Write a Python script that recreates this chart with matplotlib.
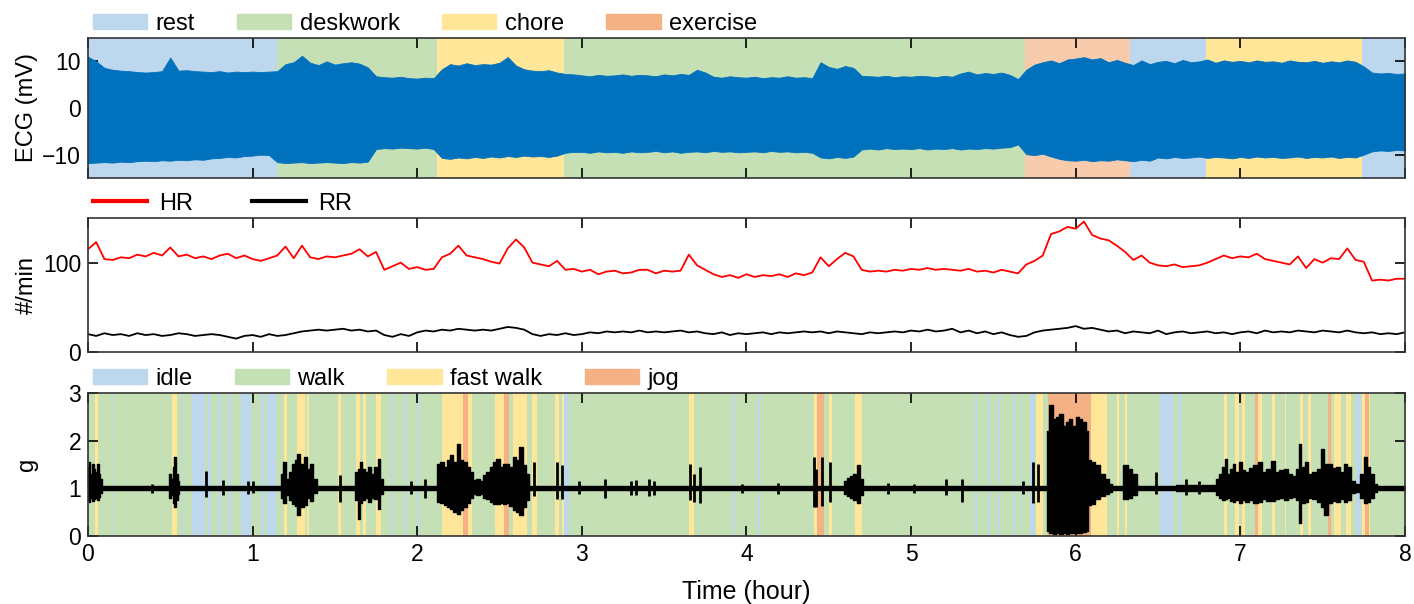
import numpy as np
import matplotlib
matplotlib.use("Agg")
import matplotlib.pyplot as plt
from matplotlib.patches import Patch
from matplotlib.lines import Line2D

plt.rcParams['font.family'] = ['Liberation Sans', 'DejaVu Sans']
plt.rcParams['font.size'] = 16

# activity colours (rest/idle, deskwork/walk, chore/fast walk, exercise/jog)
COLORS = ['#bdd7ee', '#c5e0b4', '#ffe699', '#f4b183']
TOP_NAMES = ['rest', 'deskwork', 'chore', 'exercise']
BOT_NAMES = ['idle', 'walk', 'fast walk', 'jog']

# top panel activity labels (hours)
top_start = [0.0, 1.15, 2.12, 2.89, 5.69, 6.33, 6.79, 7.74]
top_end = [1.15, 2.12, 2.89, 5.69, 6.33, 6.79, 7.74, 8.0]
top_kind = [0, 1, 2, 1, 3, 0, 2, 0]

# ECG envelope, every 0.05 h
ecg_hi = [
    11.0, 10.0, 8.6, 8.2, 8.0, 7.9, 7.7, 7.6, 7.7, 7.9, 10.8, 8.0, 8.1, 7.9, 7.8, 7.7, 7.9, 7.6, 7.8, 7.7,
    7.8, 7.7, 7.8, 7.9, 9.4, 9.8, 11.2, 9.7, 9.2, 10.0, 9.3, 9.6, 9.8, 9.5, 8.7, 6.8, 6.6, 6.5, 6.7, 6.4,
    6.3, 6.5, 6.4, 8.3, 9.4, 9.1, 9.6, 9.2, 9.4, 9.3, 9.7, 10.9, 9.1, 8.3, 8.0, 7.9, 8.1, 7.6, 7.3, 7.2,
    7.0, 6.8, 7.1, 6.9, 7.0, 7.2, 6.9, 7.1, 7.0, 6.8, 7.2, 7.0, 7.3, 7.1, 8.2, 7.6, 6.7, 6.5, 6.8, 6.6,
    6.5, 6.7, 6.4, 6.6, 6.5, 6.8, 6.5, 6.6, 6.4, 9.8, 8.8, 8.4, 9.0, 8.6, 6.9, 6.8, 6.7, 6.9, 6.6, 6.8,
    6.7, 6.9, 6.8, 6.6, 6.9, 6.7, 7.4, 7.8, 7.2, 7.5, 7.3, 7.6, 7.1, 6.2, 8.2, 9.3, 9.8, 10.2, 9.6, 10.4,
    10.6, 10.9, 10.4, 10.7, 9.8, 10.3, 9.7, 9.2, 10.2, 9.4, 9.9, 10.1, 9.6, 10.3, 9.8, 10.0, 10.4, 9.7, 10.2, 9.9,
    10.1, 9.8, 10.2, 9.9, 10.0, 9.7, 10.2, 9.9, 9.8, 10.1, 9.7, 10.0, 9.8, 10.2, 9.9, 8.9, 7.6, 7.4, 7.5, 7.3,
    7.4]
ecg_lo = [
    -11.8, -11.7, -11.6, -11.7, -11.5, -11.6, -11.4, -11.3, -11.4, -11.2, -11.3, -11.1, -11.2, -11.0, -11.1, -10.8, -10.7, -10.5, -10.6, -10.3,
    -10.2, -10.0, -10.1, -11.6, -11.8, -11.7, -11.6, -11.8, -11.7, -11.6, -11.7, -11.8, -11.6, -11.7, -11.5, -8.8, -8.6, -8.7, -8.5, -8.6,
    -8.7, -8.5, -8.8, -10.7, -10.9, -10.6, -10.8, -10.5, -10.7, -10.4, -10.6, -10.3, -10.5, -10.2, -10.4, -10.3, -10.5, -10.2, -9.6, -9.4,
    -9.4, -9.6, -9.3, -9.5, -9.4, -9.6, -9.3, -9.5, -9.4, -9.2, -9.5, -9.3, -9.6, -9.4, -9.3, -9.5, -9.2, -9.4, -9.3, -9.5,
    -9.4, -9.3, -9.5, -9.2, -9.4, -9.3, -9.5, -9.4, -9.6, -10.6, -10.8, -10.5, -10.7, -10.4, -8.9, -8.7, -8.9, -8.6, -8.8, -8.7,
    -8.8, -8.6, -8.9, -8.7, -8.8, -8.6, -8.9, -8.7, -8.8, -8.6, -8.7, -8.5, -8.4, -7.8, -9.9, -10.1, -9.8, -10.4, -10.9, -11.2,
    -11.3, -11.1, -11.4, -11.2, -11.3, -11.0, -11.2, -11.4, -11.1, -11.3, -10.6, -10.8, -10.5, -10.7, -10.6, -10.4, -10.7, -10.5, -10.6, -10.8,
    -10.5, -10.7, -10.4, -10.6, -10.5, -10.7, -10.6, -10.4, -10.7, -10.5, -10.6, -10.4, -10.7, -10.5, -10.6, -10.0, -9.3, -9.1, -9.2, -9.0,
    -9.1]

# heart rate and respiration rate (#/min), every 0.05 h
hr = [
    115, 123, 104, 103, 106, 105, 109, 107, 111, 108, 117, 107, 109, 105, 107, 104, 108, 110, 105, 108,
    104, 102, 105, 108, 118, 105, 119, 106, 104, 107, 106, 108, 110, 115, 107, 112, 92, 96, 100, 93,
    95, 92, 93, 106, 110, 119, 108, 106, 104, 101, 99, 116, 126, 117, 100, 98, 96, 102, 92, 93,
    90, 92, 87, 90, 91, 88, 89, 92, 92, 88, 91, 90, 91, 109, 97, 92, 87, 84, 86, 83,
    87, 84, 86, 85, 87, 84, 88, 86, 89, 106, 96, 104, 111, 107, 92, 90, 91, 90, 92, 91,
    93, 92, 94, 92, 93, 92, 91, 93, 90, 91, 89, 92, 90, 88, 98, 102, 108, 132, 135, 140,
    138, 146, 131, 127, 125, 119, 112, 103, 108, 100, 97, 96, 98, 95, 96, 97, 100, 104, 108, 105,
    107, 106, 110, 104, 102, 100, 98, 107, 94, 104, 100, 105, 104, 116, 103, 101, 80, 81, 80, 82,
    82]
rr = [
    20, 18, 21, 19, 20, 18, 21, 19, 20, 18, 19, 21, 20, 18, 19, 20, 19, 17, 15, 18,
    19, 17, 20, 18, 19, 21, 23, 24, 25, 24, 25, 26, 24, 25, 23, 24, 19, 17, 20, 18,
    22, 24, 23, 25, 24, 26, 25, 24, 25, 24, 26, 28, 27, 25, 20, 18, 20, 19, 21, 19,
    20, 22, 21, 23, 22, 23, 22, 24, 22, 23, 22, 23, 24, 22, 23, 21, 20, 22, 19, 21,
    20, 21, 22, 20, 22, 21, 22, 23, 22, 23, 21, 23, 22, 21, 20, 22, 21, 22, 23, 22,
    24, 23, 25, 23, 24, 26, 22, 24, 21, 23, 20, 22, 19, 17, 18, 22, 24, 25, 26, 27,
    29, 26, 27, 25, 23, 24, 21, 23, 22, 21, 24, 20, 22, 23, 21, 22, 23, 21, 22, 20,
    22, 23, 21, 24, 22, 23, 22, 24, 23, 22, 24, 23, 22, 24, 22, 21, 22, 20, 21, 20,
    22]

# bottom panel activity stripes (hours); kind 0 idle, 1 walk, 2 fast walk, 3 jog
stripe_start = [0.0, 0.04, 0.15, 0.51, 0.57, 0.63, 0.73, 0.79, 0.85, 0.93, 1.05, 1.09, 1.19, 1.27, 1.33,
                1.52, 1.63, 1.67, 1.75, 1.84, 1.92, 2.00, 2.15, 2.28, 2.31, 2.47, 2.53, 2.58, 2.70, 2.84,
                2.88, 2.89, 3.65, 3.92, 4.07, 4.41, 4.43, 4.50, 4.66, 5.39, 5.47, 5.53, 5.62, 5.66, 5.72,
                5.76, 5.83, 6.09, 6.25, 6.30, 6.51, 6.62, 6.90, 6.97, 7.01, 7.09, 7.11, 7.19, 7.27, 7.36,
                7.41, 7.53, 7.57, 7.64, 7.70, 7.74, 7.76]
stripe_end = [8.0, 0.06, 0.16, 0.54, 0.58, 0.71, 0.75, 0.81, 0.87, 0.99, 1.07, 1.14, 1.21, 1.32, 1.34,
              1.54, 1.65, 1.69, 1.78, 1.85, 1.93, 2.01, 2.28, 2.31, 2.33, 2.53, 2.56, 2.67, 2.73, 2.86,
              2.89, 2.92, 3.68, 3.93, 4.08, 4.43, 4.47, 4.52, 4.70, 5.40, 5.48, 5.54, 5.63, 5.67, 5.75,
              5.80, 6.09, 6.19, 6.26, 6.31, 6.59, 6.64, 6.92, 6.99, 7.03, 7.11, 7.13, 7.21, 7.28, 7.38,
              7.43, 7.55, 7.61, 7.67, 7.73, 7.79, 7.78]
stripe_kind = [1, 2, 0, 2, 0, 0, 0, 0, 0, 0, 0, 0, 2, 2, 2,
               2, 2, 2, 2, 0, 0, 0, 2, 3, 2, 2, 3, 2, 2, 2,
               2, 0, 2, 0, 0, 2, 3, 2, 2, 0, 0, 0, 0, 0, 0,
               2, 3, 2, 2, 2, 0, 0, 2, 2, 2, 3, 2, 2, 2, 2,
               2, 3, 2, 2, 0, 2, 3]

# acceleration envelope (g)
acc_t = [0.0, 0.01, 0.02, 0.03, 0.04, 0.05, 0.06, 0.07, 0.08, 0.09,
         0.49, 0.50, 0.51, 0.52, 0.53, 0.54, 0.55, 0.56,
         1.17, 1.18, 1.19, 1.21, 1.23, 1.25, 1.26, 1.28, 1.30, 1.32, 1.34, 1.36, 1.38, 1.40,
         1.61, 1.63, 1.65, 1.66, 1.67, 1.69, 1.71, 1.73, 1.75, 1.77, 1.78, 1.80,
         2.11, 2.13, 2.15, 2.17, 2.19, 2.21, 2.23, 2.25, 2.27, 2.29, 2.31, 2.33, 2.35, 2.37, 2.39,
         2.41, 2.43, 2.45, 2.47, 2.49, 2.51, 2.53, 2.55, 2.57, 2.59, 2.61, 2.63, 2.65, 2.67, 2.69,
         4.58, 4.60, 4.62, 4.64, 4.66, 4.68, 4.70, 4.71,
         5.82, 5.83, 5.85, 5.87, 5.89, 5.91, 5.93, 5.95, 5.97, 5.99, 6.01, 6.03, 6.05, 6.07, 6.08,
         6.10, 6.13, 6.16, 6.19, 6.21, 6.23, 6.28, 6.30, 6.33, 6.36, 6.38,
         6.84, 6.86, 6.88, 6.90, 6.91, 6.93, 6.95, 6.96, 6.98, 7.00, 7.02, 7.04, 7.06, 7.09,
         7.12, 7.14, 7.17, 7.20, 7.22, 7.25, 7.28, 7.30, 7.33, 7.35, 7.36, 7.38, 7.40, 7.42,
         7.45, 7.48, 7.50, 7.52, 7.54, 7.57, 7.59, 7.62, 7.64, 7.66, 7.68, 7.71, 7.74, 7.76,
         7.78, 7.80, 7.82, 7.84, 8.0]
acc_hi = [1.45, 1.55, 1.3, 1.52, 1.4, 1.35, 1.5, 1.3, 1.2, 1.04,
          1.04, 1.3, 1.2, 1.45, 1.66, 1.3, 1.15, 1.04,
          1.04, 1.3, 1.55, 1.2, 1.35, 1.5, 1.6, 1.72, 1.5, 1.65, 1.4, 1.5, 1.2, 1.04,
          1.04, 1.35, 1.4, 1.55, 1.4, 1.35, 1.45, 1.3, 1.45, 1.62, 1.2, 1.04,
          1.04, 1.5, 1.55, 1.45, 1.6, 1.69, 1.55, 1.93, 1.6, 1.55, 1.45, 1.34, 1.18, 1.2, 1.15,
          1.27, 1.35, 1.45, 1.55, 1.62, 1.45, 1.5, 1.51, 1.45, 1.65, 1.6, 1.86, 1.48, 1.3, 1.04,
          1.04, 1.15, 1.22, 1.25, 1.3, 1.48, 1.2, 1.04,
          1.04, 2.2, 2.75, 2.45, 2.5, 2.55, 2.3, 2.4, 2.45, 2.3, 2.5, 2.45, 2.4, 2.2, 1.6,
          1.55, 1.48, 1.3, 1.2, 1.1, 1.04, 1.04, 1.48, 1.4, 1.3, 1.04,
          1.06, 1.2, 1.3, 1.45, 1.62, 1.3, 1.4, 1.51, 1.35, 1.55, 1.38, 1.35, 1.42, 1.48,
          1.55, 1.35, 1.4, 1.58, 1.35, 1.38, 1.41, 1.3, 1.25, 1.4, 1.93, 1.45, 1.55, 1.3,
          1.35, 1.4, 1.83, 1.5, 1.5, 1.42, 1.44, 1.35, 1.5, 1.45, 1.15, 1.08, 1.3, 1.65,
          1.45, 1.3, 1.1, 1.04, 1.04]
acc_lo = [0.75, 0.72, 0.8, 0.74, 0.78, 0.8, 0.76, 0.82, 0.9, 0.96,
          0.96, 0.8, 0.85, 0.7, 0.61, 0.75, 0.88, 0.96,
          0.96, 0.8, 0.7, 0.85, 0.75, 0.68, 0.62, 0.45, 0.6, 0.65, 0.8, 0.74, 0.9, 0.96,
          0.96, 0.75, 0.35, 0.7, 0.75, 0.8, 0.72, 0.8, 0.78, 0.57, 0.88, 0.96,
          0.96, 0.72, 0.7, 0.65, 0.6, 0.57, 0.5, 0.46, 0.55, 0.6, 0.7, 0.8, 0.88, 0.85, 0.88,
          0.8, 0.78, 0.72, 0.68, 0.67, 0.7, 0.68, 0.7, 0.62, 0.55, 0.5, 0.43, 0.6, 0.75, 0.96,
          0.96, 0.88, 0.84, 0.8, 0.75, 0.7, 0.85, 0.96,
          0.96, 0.1, 0.06, 0.05, 0.07, 0.05, 0.06, 0.05, 0.07, 0.06, 0.06, 0.07, 0.08, 0.1, 0.65,
          0.67, 0.77, 0.84, 0.88, 0.92, 0.96, 0.96, 0.77, 0.8, 0.85, 0.96,
          0.94, 0.85, 0.8, 0.76, 0.77, 0.8, 0.74, 0.72, 0.75, 0.7, 0.75, 0.72, 0.75, 0.7,
          0.72, 0.78, 0.74, 0.74, 0.78, 0.8, 0.76, 0.8, 0.82, 0.75, 0.27, 0.7, 0.72, 0.8,
          0.78, 0.72, 0.6, 0.43, 0.7, 0.74, 0.72, 0.78, 0.72, 0.75, 0.9, 0.92, 0.8, 0.7,
          0.72, 0.8, 0.92, 0.96, 0.96]

# isolated spikes in the acceleration trace
spike_t = [0.39, 0.72, 0.82, 0.97, 1.00, 1.53, 1.96, 2.05, 2.71, 2.85, 2.88, 2.98, 3.14, 3.30, 3.33,
           3.41, 3.44, 3.66, 3.68, 3.72, 3.97, 4.19, 4.41, 4.42, 4.46, 4.51, 4.86, 5.02, 5.21, 5.31,
           5.68, 5.74, 5.77, 6.49, 6.67, 6.75]
spike_hi = [1.1, 1.36, 1.17, 1.15, 1.15, 1.27, 1.15, 1.2, 1.55, 1.55, 1.48, 1.15, 1.2, 1.15, 1.18,
            1.2, 1.15, 1.51, 1.3, 1.44, 1.1, 1.12, 1.65, 1.4, 1.65, 1.55, 1.12, 1.1, 1.2, 1.2,
            1.15, 1.55, 1.5, 1.34, 1.2, 1.15]
spike_lo = [0.9, 0.82, 0.85, 0.88, 0.9, 0.72, 0.88, 0.8, 0.84, 0.77, 0.77, 0.88, 0.8, 0.85, 0.85,
            0.84, 0.86, 0.75, 0.72, 0.7, 0.9, 0.88, 0.6, 0.6, 0.62, 0.72, 0.88, 0.9, 0.85, 0.72,
            0.88, 0.7, 0.72, 0.88, 0.85, 0.88]

t = np.linspace(0, 8, 161)

fig = plt.figure(figsize=(14.14, 6.04), dpi=100)
W = 0.9314
ax1 = fig.add_axes([0.0622, 0.7053, W, 0.2318])
ax2 = fig.add_axes([0.0622, 0.4172, W, 0.2219])
ax3 = fig.add_axes([0.0622, 0.1126, W, 0.2368])


def style(ax):
    ax.set_xlim(0, 8)
    ax.set_xticks(range(9))
    ax.tick_params(direction='in', top=True, right=True, length=7, width=1.2,
                   labelsize=16.5, pad=5)
    for s in ax.spines.values():
        s.set_linewidth(1.2)
        s.set_color('#333333')
    ax.yaxis.set_label_coords(-0.038, 0.5)


# ECG
for s, e, k in zip(top_start, top_end, top_kind):
    col = '#f8cbad' if k == 3 else COLORS[k]
    ax1.axvspan(s, e, color=col, lw=0, zorder=0)
ax1.fill_between(t, ecg_lo, ecg_hi, color='#0072bd', lw=0.6, zorder=2)
ax1.set_ylim(-15, 15)
ax1.set_yticks([-10, 0, 10])
ax1.set_ylabel('ECG (mV)', fontsize=17)
style(ax1)
ax1.tick_params(labelbottom=False)
ax1.legend([Patch(color=c) for c in COLORS], TOP_NAMES, loc='lower left',
           bbox_to_anchor=(0.0, 0.99), ncol=4, frameon=False, fontsize=17,
           handlelength=2.3, handleheight=0.6, handletextpad=0.35,
           columnspacing=1.8, borderpad=0.1, borderaxespad=0.1)

# HR / RR
ax2.plot(t, hr, color='red', lw=1.3)
ax2.plot(t, rr, color='black', lw=1.3)
ax2.set_ylim(0, 150)
ax2.set_yticks([0, 100])
ax2.set_ylabel('#/min', fontsize=17)
style(ax2)
ax2.tick_params(labelbottom=False)
ax2.legend([Line2D([], [], color='red', lw=3), Line2D([], [], color='black', lw=3)],
           ['HR', 'RR'], loc='lower left', bbox_to_anchor=(0.0, 0.99), ncol=2,
           frameon=False, fontsize=17, handlelength=2.3, handletextpad=0.5,
           columnspacing=2.5, borderpad=0.1, borderaxespad=0.1)

# acceleration
for s, e, k in zip(stripe_start, stripe_end, stripe_kind):
    ax3.axvspan(s, e, color=COLORS[k], lw=0, zorder=0)
ax3.fill_between(acc_t, acc_lo, acc_hi, step='mid', color='black', lw=1.0, zorder=2)
ax3.vlines(spike_t, spike_lo, spike_hi, color='black', lw=2, zorder=2)
ax3.set_ylim(0, 3)
ax3.set_yticks([0, 1, 2, 3])
ax3.set_ylabel('g', fontsize=17)
ax3.set_xlabel('Time (hour)', fontsize=18, labelpad=10)
style(ax3)
ax3.legend([Patch(color=c) for c in COLORS], BOT_NAMES, loc='lower left',
           bbox_to_anchor=(0.0, 0.99), ncol=4, frameon=False, fontsize=17,
           handlelength=2.3, handleheight=0.6, handletextpad=0.35,
           columnspacing=1.8, borderpad=0.1, borderaxespad=0.1)

fig.savefig('out.png', dpi=100)
